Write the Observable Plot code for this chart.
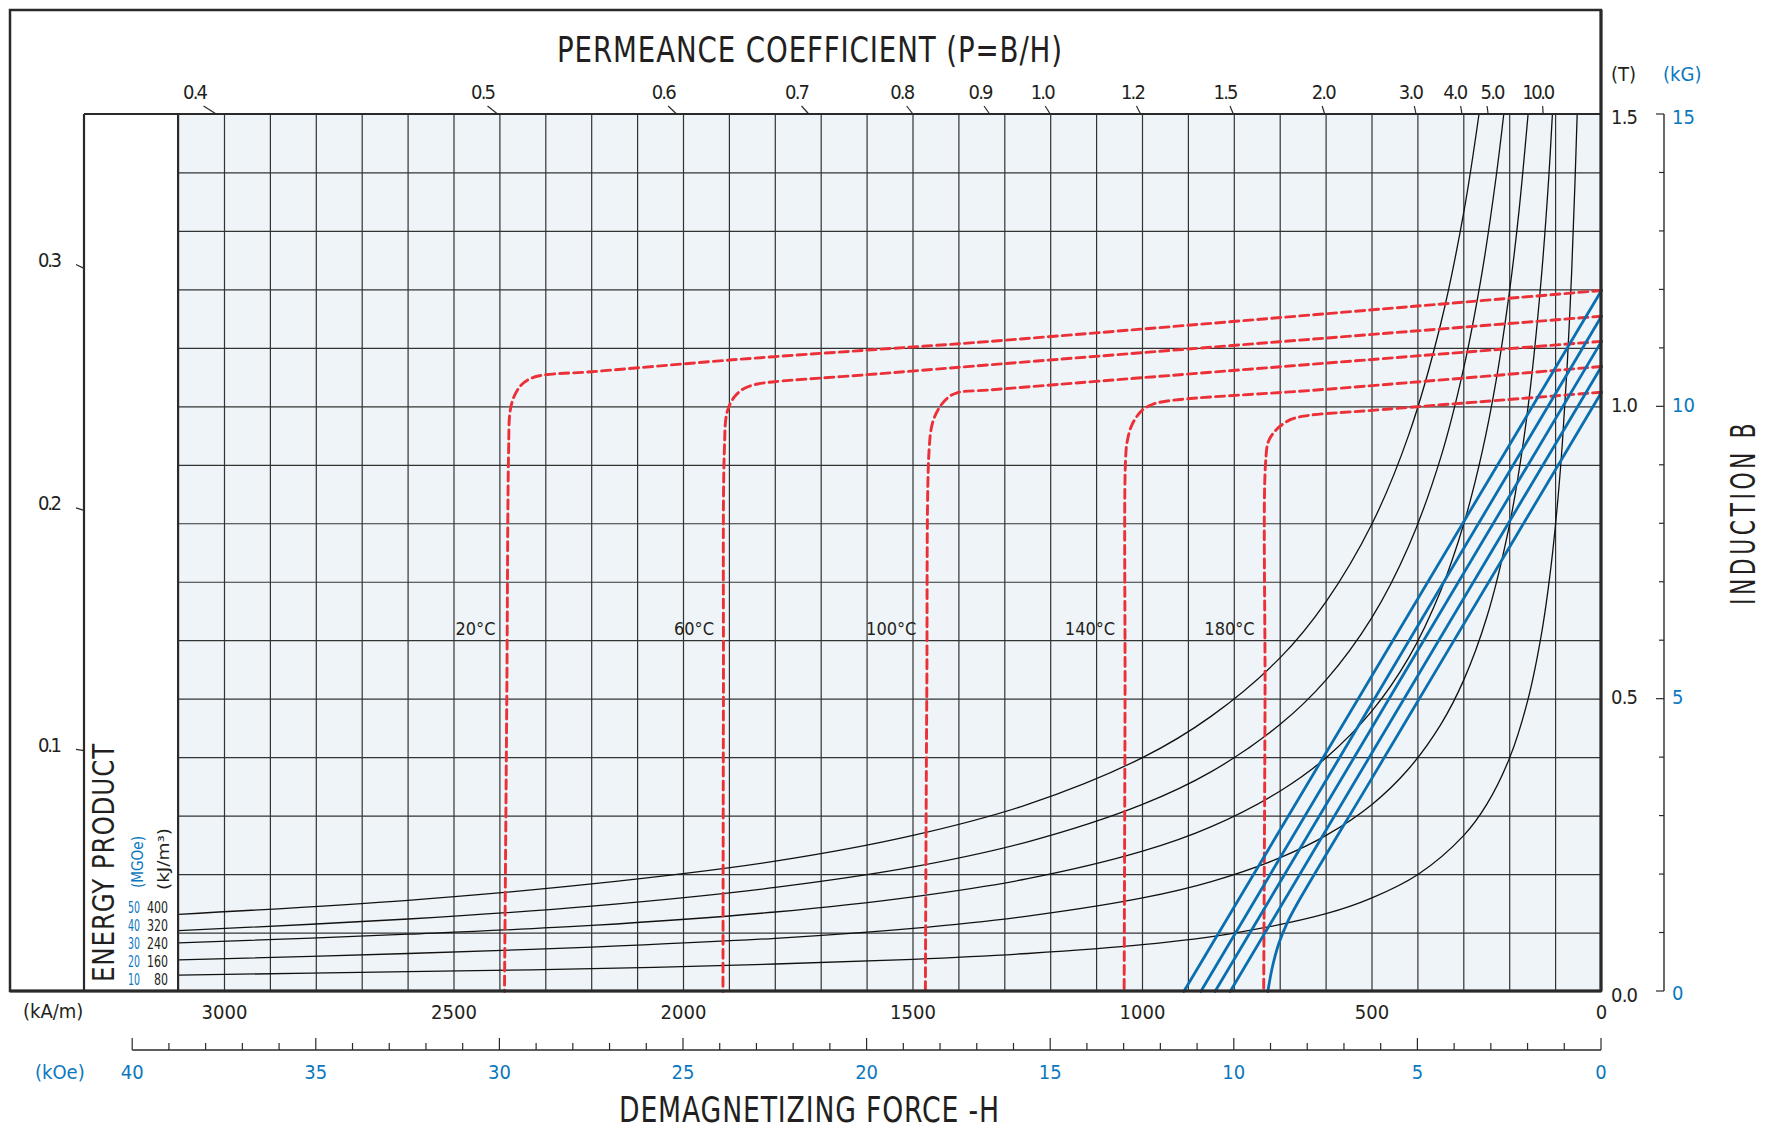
<!DOCTYPE html>
<html>
<head>
<meta charset="utf-8">
<script src="https://cdn.jsdelivr.net/npm/d3@7"></script>
<script src="https://cdn.jsdelivr.net/npm/@observablehq/plot@0.6"></script>
<style>
  html, body { margin: 0; padding: 0; background: #ffffff; }
  #chart { width: 1767px; height: 1128px; }
  #chart svg { display: block; }
</style>
</head>
<body>
<div id="chart"></div>
<script>
const FONT = "'Liberation Sans Narrow', 'DejaVu Sans Condensed', 'Liberation Sans', sans-serif";
const INK = "#231f20";
const BLUE_TEXT = "#0b78be";
const BLUE_LINE = "#0a6fb1";
const RED = "#ec3037";
const GRID_BG = "#eef4f7";
const GRID_LINE = "#333333";

// ---- data (H in kA/m, B in T) ----
const temperatures = ["20°C", "60°C", "100°C", "140°C", "180°C"];

// intrinsic curves (red dashed)
const red20  = [[0,1.199],[1331,1.112],[1600,1.097],[1900,1.080],[2201,1.060],[2308,1.054],[2337,1.047],[2355,1.036],[2370,1.016],[2378,0.991],[2381,0.925],[2385,0.500],[2390,0]];
const red60  = [[0,1.155],[1331,1.072],[1600,1.055],[1801,1.043],[1839,1.039],[1869,1.031],[1890,1.016],[1905,0.991],[1911,0.925],[1913,0.500],[1914,0]];
const red100 = [[0,1.112],[1331,1.029],[1404,1.024],[1425,1.015],[1444,0.997],[1458,0.971],[1465,0.925],[1470,0.500],[1473,0]];
const red140 = [[0,1.069],[600,1.030],[946,1.010],[979,1.004],[1001,0.994],[1022,0.971],[1033,0.942],[1037,0.908],[1038,0.500],[1040,0]];
const red180 = [[0,1.025],[500,0.994],[641,0.985],[678,0.978],[707,0.962],[725,0.942],[732,0.902],[733,0.500],[736,0]];

// normal curves (blue)
const blue20  = [[0,1.199],[910,0]];
const blue60  = [[0,1.155],[873,0]];
const blue100 = [[0,1.112],[842,0]];
const blue140 = [[0,1.069],[809,0]];
const blue180 = [[0,1.025],[330,0.589],[500,0.365],[663,0.150],[685,0.117],[703,0.082],[717,0.042],[727,0]];

// energy product curves (black)
const energyKJ   = [400, 320, 240, 160, 80];
const energyMGOe = [50, 40, 30, 20, 10];
const energy400 = [[3100,0.132],[2600,0.156],[2200,0.184],[1800,0.223],[1500,0.267],[1250,0.320],[1000,0.400],[850,0.471],[700,0.571],[600,0.667],[500,0.800],[420,0.952],[350,1.143],[300,1.333],[267,1.500]];
const energy320 = [[3100,0.104],[2600,0.124],[2200,0.146],[1800,0.178],[1500,0.213],[1250,0.256],[1000,0.320],[850,0.376],[700,0.457],[600,0.533],[500,0.640],[420,0.762],[350,0.914],[300,1.067],[260,1.231],[230,1.391],[213,1.500]];
const energy240 = [[3100,0.083],[2600,0.098],[2200,0.113],[1800,0.136],[1500,0.162],[1250,0.193],[1000,0.240],[850,0.282],[700,0.343],[600,0.400],[500,0.480],[420,0.571],[350,0.686],[300,0.800],[260,0.923],[230,1.043],[200,1.200],[180,1.333],[160,1.500]];
const energy160 = [[3100,0.054],[2600,0.065],[2200,0.076],[1800,0.091],[1500,0.108],[1250,0.129],[1000,0.160],[850,0.188],[700,0.229],[600,0.267],[500,0.320],[420,0.381],[350,0.457],[300,0.533],[250,0.640],[200,0.800],[170,0.941],[150,1.067],[130,1.231],[115,1.391],[107,1.500]];
const energy80  = [[3100,0.028],[2600,0.034],[2200,0.039],[1800,0.047],[1500,0.055],[1250,0.065],[1000,0.080],[800,0.100],[600,0.133],[500,0.160],[400,0.200],[300,0.267],[250,0.320],[200,0.400],[160,0.500],[130,0.615],[110,0.727],[95,0.842],[85,0.941],[75,1.067],[65,1.231],[58,1.379],[53,1.500]];

// axes
const xTicksKA   = [3000, 2500, 2000, 1500, 1000, 500, 0];
const kOeLabels  = [40, 35, 30, 25, 20, 15, 10, 5, 0];
const kOeToKA    = 80;           // as drawn on the chart
const teslaTicks = [0.0, 0.5, 1.0, 1.5];
const teslaLabels = ["0.0", "0.5", "1.0", "1.5"];
const kGLabels   = [0, 5, 10, 15];
const permeanceTop   = ["0.4","0.5","0.6","0.7","0.8","0.9","1.0","1.2","1.5","2.0","3.0","4.0","5.0","10.0"];
const permeanceTopH  = [3017, 2404, 2014, 1726, 1499, 1332, 1200, 1003, 801, 602, 403, 303, 246, 126];
const permeanceTopDx = [-8, -4, -4, -4, -4, -3, -2, -3, -4, 2, -3, -5, 6, -4];
const permeanceLeft  = ["0.1", "0.2", "0.3"];
const permeanceLeftB = [0.411, 0.822, 1.236];

// ---- tables ----
const redCurves = [red20, red60, red100, red140, red180];
const blueCurves = [blue20, blue60, blue100, blue140, blue180];
const energyCurves = [energy400, energy320, energy240, energy160, energy80];
const rows = (curves, keys) => curves.flatMap((pts, i) => pts.map(([h, b]) => ({k: keys[i], h, b})));
const redRows = rows(redCurves, temperatures);
const blueRows = rows(blueCurves, temperatures);
const energyRows = rows(energyCurves, energyKJ);
const tempLabelRows = temperatures.map((t, i) => ({t, h: redCurves[i][redCurves[i].length - 1][0]}));
const gridX = d3.range(100, 3100, 100);
const gridY = d3.range(1, 15).map(d => d / 10);

const chart = Plot.plot({
  width: 1767,
  height: 1128,
  marginLeft: 84,
  marginRight: 166,
  marginTop: 114,
  marginBottom: 137,
  x: {domain: [3305, 0], axis: null},
  y: {domain: [0, 1.5], axis: null},
  style: {fontFamily: FONT, background: "#ffffff", color: INK, overflow: "visible"},
  marks: [
    Plot.rect([{x1: 3100, x2: 0, y1: 0, y2: 1.5}], {x1: "x1", x2: "x2", y1: "y1", y2: "y2", fill: GRID_BG}),
    Plot.ruleX(gridX, {x: d => d, y1: () => 0, y2: () => 1.5, stroke: GRID_LINE, strokeWidth: 1.2}),
    Plot.ruleY(gridY, {y: d => d, x1: () => 3100, x2: () => 0, stroke: GRID_LINE, strokeWidth: 1.2}),
    Plot.line(energyRows, {x: "h", y: "b", z: "k", curve: "catmull-rom", stroke: "#111111", strokeWidth: 1.3}),
    Plot.line(redRows, {x: "h", y: "b", z: "k", curve: "catmull-rom", stroke: RED, strokeWidth: 2.9, strokeDasharray: "9,5"}),
    Plot.line(blueRows, {x: "h", y: "b", z: "k", curve: "catmull-rom", stroke: BLUE_LINE, strokeWidth: 2.8}),
    Plot.text(tempLabelRows, {x: "h", y: () => 0.619, text: "t", textAnchor: "end", dx: -9, fontSize: 18, fill: INK}),
    Plot.text(xTicksKA, {x: d => d, frameAnchor: "bottom", lineAnchor: "middle", dy: 21, text: d => String(d), fontSize: 20, fill: INK})
  ]
});
document.getElementById("chart").appendChild(chart);

// ---- decorations using Plot's scales ----
const xs = v => chart.scale("x").apply(v);
const ys = v => chart.scale("y").apply(v);
const svg = d3.select(chart);
const g = svg.append("g").attr("font-family", FONT).attr("fill", INK);

const line = (x1, y1, x2, y2, w, c) => g.append("line")
  .attr("x1", x1).attr("y1", y1).attr("x2", x2).attr("y2", y2)
  .attr("stroke", c || "#2a2a2a").attr("stroke-width", w || 1.2);
const text = (x, y, s, opts = {}) => {
  const t = g.append("text").attr("x", x).attr("y", y).text(s)
    .attr("font-size", opts.size || 20)
    .attr("fill", opts.fill || INK)
    .attr("text-anchor", opts.anchor || "start")
    .attr("dominant-baseline", opts.baseline || "auto");
  if (opts.ls) t.attr("letter-spacing", opts.ls);
  if (opts.len) t.attr("textLength", opts.len).attr("lengthAdjust", opts.adjust || "spacingAndGlyphs");
  if (opts.rotate) t.attr("transform", `rotate(${opts.rotate},${x},${y})`);
  return t;
};

const X0 = xs(0), Y0 = ys(0), YT = ys(1.5), XP = xs(3305), XG = xs(3100);

// frames
g.append("rect").attr("x", 10).attr("y", 10).attr("width", X0 - 10).attr("height", Y0 - 10)
  .attr("fill", "none").attr("stroke", "#2a2a2a").attr("stroke-width", 2.5);
line(XP, YT, X0, YT, 2.2);
line(XP, YT, XP, Y0, 2.2);
line(XG, YT, XG, Y0, 2.2);
line(10, Y0, X0, Y0, 3.2);
line(X0, 10, X0, Y0, 3);

// top: permeance coefficient ticks
permeanceTop.forEach((p, i) => {
  const xa = xs(permeanceTopH[i]);
  const k = 8 / (Y0 - YT);
  const xb = xa - (X0 - xa) * k, yb = YT - 8;
  line(xa, YT, xb, yb, 1.2);
  text(xb + permeanceTopDx[i], 93, p, {size: 20, anchor: "middle", baseline: "middle", len: p.length === 4 ? 33 : 25, adjust: "spacing"});
});
// left: permeance coefficient ticks
permeanceLeft.forEach((p, i) => {
  const ya = ys(permeanceLeftB[i]);
  const yb = ya - (Y0 - ya) * 8 / (X0 - XP);
  line(XP, ya, XP - 8, yb, 1.2);
  text(38, yb - 3, p, {size: 20, baseline: "middle", len: 24, adjust: "spacing"});
});

text(557, 62, "PERMEANCE COEFFICIENT (P=B/H)", {size: 35, len: 506, ls: 1});
text(619, 1122, "DEMAGNETIZING FORCE -H", {size: 35, len: 381, ls: 1});
text(1755, 605, "INDUCTION B", {size: 34, len: 185, rotate: -90, ls: 5});

// bottom kA/m and kOe
text(23, 1012, "(kA/m)", {size: 20, baseline: "middle"});
text(35, 1073, "(kOe)", {size: 20, baseline: "middle", fill: BLUE_TEXT});
const KY = 1050;
line(xs(40 * kOeToKA), KY, X0, KY, 1.6);
d3.range(0, 41).forEach(k => {
  const xk = xs(k * kOeToKA);
  line(xk, KY, xk, KY - (k % 5 === 0 ? 12 : 7), 1.2);
});
kOeLabels.forEach(k => text(xs(k * kOeToKA), 1073, String(k), {size: 20, anchor: "middle", baseline: "middle", fill: BLUE_TEXT}));

// right: Tesla and kG
text(1611, 75, "(T)", {size: 20, baseline: "middle"});
text(1663, 75, "(kG)", {size: 20, baseline: "middle", fill: BLUE_TEXT});
teslaTicks.forEach((t, i) => {
  const shift = t === 0 ? 5 : (t === 1.5 ? 4 : 0);
  text(1611, ys(t) + shift, teslaLabels[i], {size: 20, baseline: "middle", len: 27, adjust: "spacing"});
});
const KX = 1664;
line(KX, YT, KX, Y0, 1.4);
d3.range(0, 16).forEach(kg => {
  const yk = ys(kg / 10);
  line(KX, yk, KX - (kg % 5 === 0 ? 8 : 5), yk, 1.2);
});
kGLabels.forEach(kg => {
  const shift = kg === 0 ? 3 : (kg === 15 ? 4 : 0);
  text(1672, ys(kg / 10) + shift, String(kg), {size: 20, baseline: "middle", fill: BLUE_TEXT});
});

// energy product legend
text(114, 982, "ENERGY PRODUCT", {size: 31, len: 239, rotate: -90, ls: 1});
text(143, 888, "(MGOe)", {size: 15, len: 52, rotate: -90, fill: BLUE_TEXT});
text(169, 890, "(kJ/m³)", {size: 16, len: 62, rotate: -90});
const legendY = [908, 926, 944, 962, 980];
energyMGOe.forEach((m, i) => {
  text(128, legendY[i], String(m), {size: 16, baseline: "middle", fill: BLUE_TEXT, len: 12});
  const s = String(energyKJ[i]);
  text(168, legendY[i], s, {size: 16, baseline: "middle", anchor: "end", len: s.length * 7});
});
</script>
</body>
</html>
